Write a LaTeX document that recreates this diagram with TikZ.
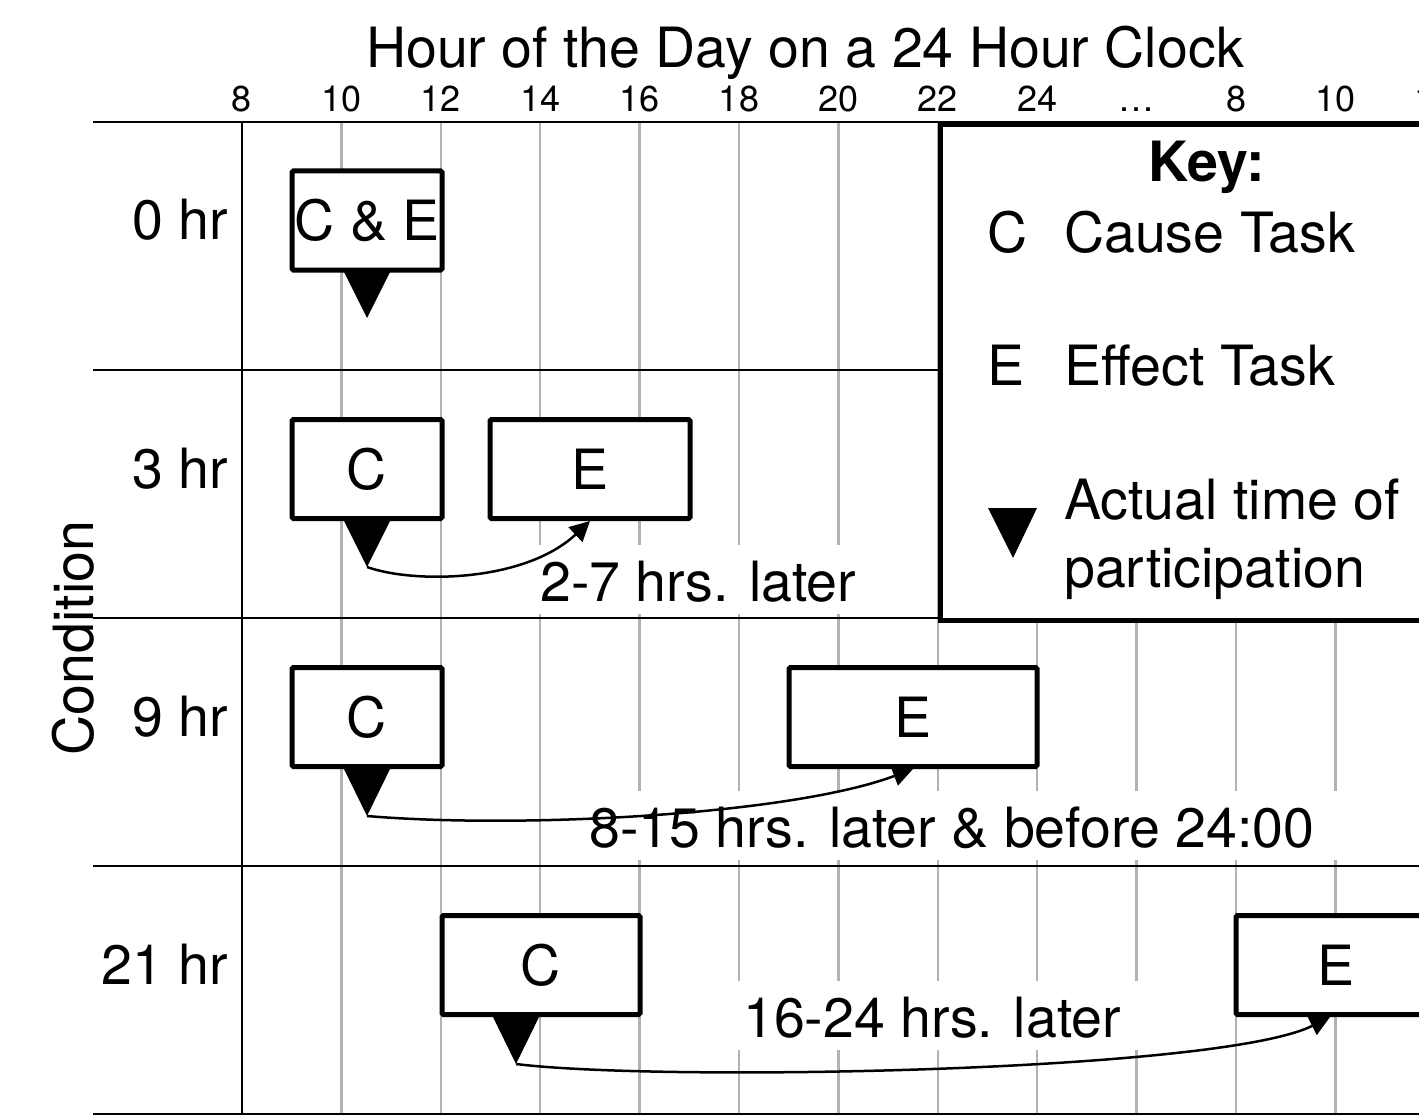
\documentclass[tikz,border=0pt]{standalone}
\usepackage{fontspec}
\setmainfont{TeX Gyre Heros}
\usetikzlibrary{arrows.meta}
\newcommand{\bigtxt}{\fontsize{55.5}{64}\selectfont}
\newcommand{\ticktxt}{\fontsize{36}{40}\selectfont}
\begin{document}
\begin{tikzpicture}[x=1pt,y=-1pt,
  gridline/.style={draw=black!30, line width=2.5pt},
  ruleline/.style={draw=black, line width=2.5pt},
  taskbox/.style={draw=black, fill=white, line width=5pt, rounded corners=1.5pt,
    inner sep=0pt, minimum height=99pt, font=\bigtxt},
  gap/.style={fill=white, inner xsep=25pt, inner ysep=0pt, text height=56pt, text depth=13pt,
    anchor=base west, font=\bigtxt},
  plain/.style={inner sep=0pt, font=\bigtxt},
  ticklab/.style={inner sep=0pt, anchor=base, font=\ticktxt},
  pin/.style={fill=black},
  conn/.style={draw=black, line width=2.5pt, -{Triangle[length=20pt,width=20pt]}}
]
\useasboundingbox (0,0) rectangle (1419,1118);
\clip (0,0) rectangle (1419,1118);

% grid lines
\foreach \k in {1,...,11} {
  \draw[gridline] ({242+99.4*\k},122) -- ({242+99.4*\k},1114);
}
% row rules
\foreach \yy in {122,370,618,866,1114} {
  \draw[ruleline] (93,\yy) -- (1440,\yy);
}
\draw[ruleline] (242,122) -- (242,1114);

% title and ticks
\node[plain, anchor=base] (title) at (805,68) {Hour of the Day on a 24 Hour Clock};
\foreach \lab [count=\k from 0] in {8,10,12,14,16,18,20,22,24,\dots,8,10,12} {
  \node[ticklab] (tick\k) at ({242+99.4*\k},112) {\lab};
}

% row labels
\node[plain, anchor=base east] (r0) at (228,240) {0 hr};
\node[plain, anchor=base east] (r1) at (228,488) {3 hr};
\node[plain, anchor=base east] (r2) at (228,736) {9 hr};
\node[plain, anchor=base east] (r3) at (228,984) {21 hr};
\node[plain, anchor=base, rotate=90] (cond) at (93,638) {Condition};

% legend
\node[draw=black, fill=white, line width=5pt, anchor=north west, inner sep=0pt,
  minimum width=540pt, minimum height=496pt] (legend) at (938,122) {};
\node[plain, anchor=base, font=\bigtxt\bfseries] (keyt) at (1207,182) {Key:};
\node[plain, anchor=base west] (kc) at (987,252) {C};
\node[plain, anchor=base west] (kct) at (1064,252) {Cause Task};
\node[plain, anchor=base west] (ke) at (987,385) {E};
\node[plain, anchor=base west] (ket) at (1064,385) {Effect Task};
\fill[pin] (988,508) -- (1037,508) -- (1013,558) -- cycle;
\node[plain, anchor=base west] (ka) at (1064,519) {Actual time of};
\node[plain, anchor=base west] (kp) at (1064,587) {participation};

% interval labels
\node[gap] (l1) at (515,601) {2-7 hrs. later};
\node[gap] (l2) at (564,847) {8-15 hrs. later \& before 24:00};
\node[gap] (l3) at (718,1037) {16-24 hrs. later};

% task boxes
\node[taskbox, minimum width=150pt] (ce0) at (367,220.5) {C \& E};
\node[taskbox, minimum width=150pt] (c1) at (367,469) {C};
\node[taskbox, minimum width=200pt] (e1) at (590,469) {E};
\node[taskbox, minimum width=150pt] (c2) at (367,717) {C};
\node[taskbox, minimum width=248pt] (e2) at (913,717) {E};
\node[taskbox, minimum width=198pt] (c3) at (541,965) {C};
\node[taskbox, minimum width=200pt] (e3) at (1336,965) {E};

% participation pins
\coordinate (p0) at (367,318);
\coordinate (p1) at (367,567);
\coordinate (p2) at (367,816);
\coordinate (p3) at (516,1064);
\fill[pin] (343,270) -- (391,270) -- (p0) -- cycle;
\fill[pin] (343,519) -- (391,519) -- (p1) -- cycle;
\fill[pin] (343,767) -- (391,767) -- (p2) -- cycle;
\fill[pin] (492,1015) -- (540,1015) -- (p3) -- cycle;

% connectors
\draw[conn] (p1) .. controls (415,584) and (525,582) .. (e1.south);
\draw[conn] (p2) .. controls (520,829) and (790,815) .. (e2.south);
\draw[conn] (p3) .. controls (660,1082) and (1220,1072) .. ([xshift=-6pt]e3.south);
\end{tikzpicture}
\end{document}
